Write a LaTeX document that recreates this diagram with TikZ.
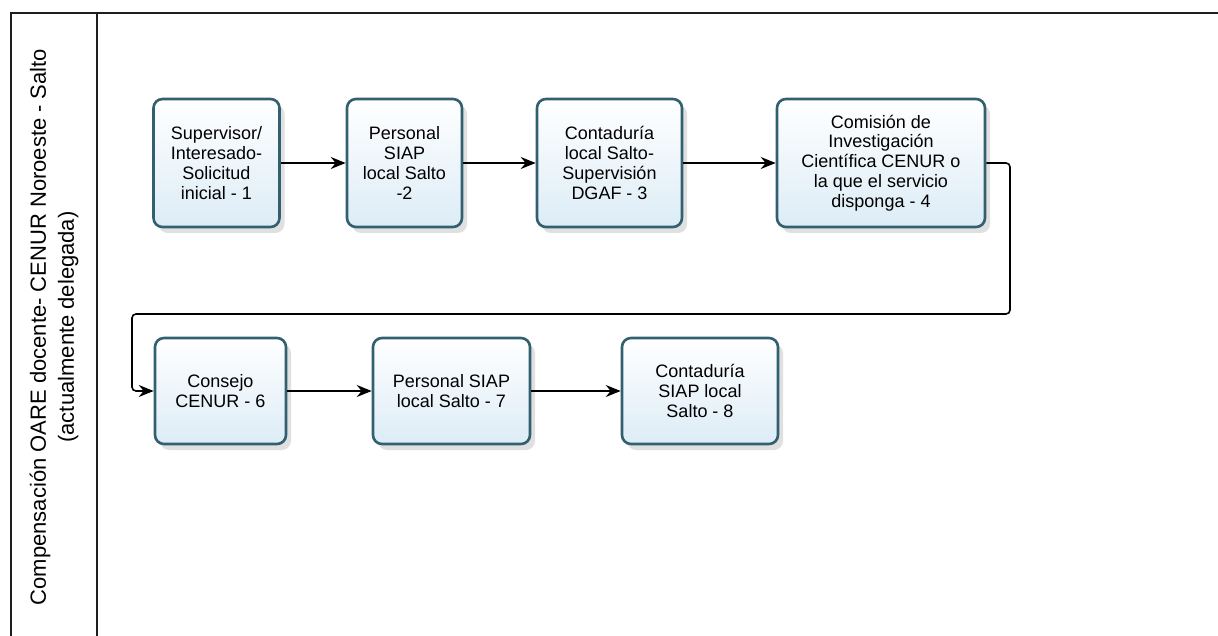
\documentclass[tikz,border=0pt]{standalone}
\usepackage{fontspec}
\setmainfont{Liberation Sans}
\usetikzlibrary{arrows.meta,shadows}
\definecolor{boxborder}{RGB}{50,96,112}
\definecolor{boxfill}{RGB}{220,236,246}
\definecolor{frameline}{RGB}{30,30,30}
\tikzset{
  stepbox/.style={draw=boxborder, line width=2.6pt, rounded corners=9pt,
    top color=white, bottom color=boxfill, align=center,
    font=\fontsize{18}{19.8}\selectfont, inner sep=0pt,
    drop shadow={shadow xshift=5pt, shadow yshift=-6pt, opacity=0.12, fill=black}},
  flow/.style={draw=black, line width=1.6pt, -{Stealth[length=15pt,width=12pt,inset=5pt]}},
  framestyle/.style={draw=frameline, line width=1.6pt},
  lanelabel/.style={rotate=90, align=center, font=\fontsize{22}{28}\selectfont}
}
\begin{document}
\begin{tikzpicture}[x=1pt,y=-1pt]
\useasboundingbox (0,0) rectangle (1218,636);
% frame
\coordinate (ftl) at (11,13);
\coordinate (ftr) at (1218,13);
\coordinate (fbl) at (11,636);
\coordinate (dtop) at (97,13);
\coordinate (dbot) at (97,636);
\draw[framestyle] (fbl) -- (ftl) -- (ftr);
\draw[framestyle] (dtop) -- (dbot);
\node[lanelabel] (lane) at (54,327) {Compensación OARE docente- CENUR Noroeste - Salto\\(actualmente delegada)};
% boxes row 1
\node[stepbox, minimum width=126pt, minimum height=128pt] (b1) at (216.5,163) {Supervisor/\\Interesado-\\Solicitud\\inicial - 1};
\node[stepbox, minimum width=115pt, minimum height=128pt] (b2) at (404.5,163) {Personal\\SIAP\\local Salto\\-2};
\node[stepbox, minimum width=145pt, minimum height=128pt] (b3) at (609.5,163) {Contaduría\\local Salto-\\Supervisión\\DGAF - 3};
\node[stepbox, minimum width=208pt, minimum height=128pt] (b4) at (881,163) {Comisión de\\Investigación\\Científica CENUR o\\la que el servicio\\disponga - 4};
% boxes row 2
\node[stepbox, minimum width=131pt, minimum height=106pt] (b6) at (220.5,391) {Consejo\\CENUR - 6};
\node[stepbox, minimum width=157pt, minimum height=106pt] (b7) at (451.5,391) {Personal SIAP\\local Salto - 7};
\node[stepbox, minimum width=156pt, minimum height=106pt] (b8) at (700,391) {Contaduría\\SIAP local\\Salto - 8};
% connectors
\draw[flow] (b1) -- (b2);
\draw[flow] (b2) -- (b3);
\draw[flow] (b3) -- (b4);
\coordinate (c1) at (1010,163);
\coordinate (c2) at (1010,314);
\coordinate (c3) at (132,314);
\coordinate (c4) at (132,391);
\draw[flow, rounded corners=4pt] (b4.east) -- (c1) -- (c2) -- (c3) -- (c4) -- (b6.west);
\draw[flow] (b6) -- (b7);
\draw[flow] (b7) -- (b8);
\end{tikzpicture}
\end{document}
